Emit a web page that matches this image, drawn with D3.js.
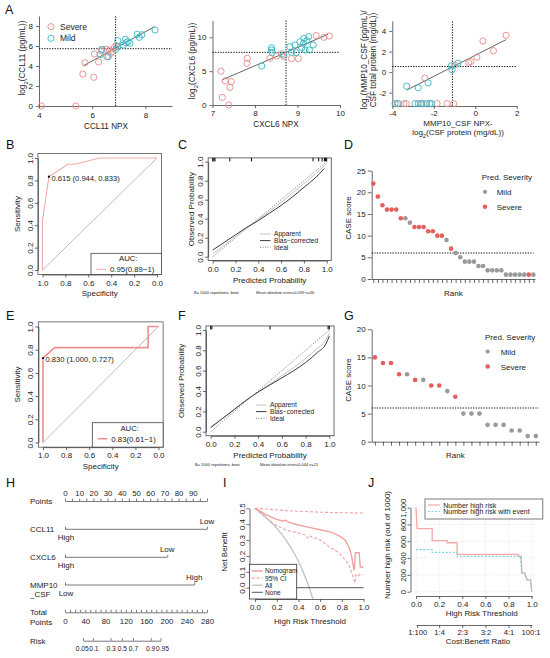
<!DOCTYPE html>
<html><head><meta charset="utf-8">
<script src="https://cdn.jsdelivr.net/npm/d3@7"></script>
<style>body{margin:0;background:#fff}svg{display:block}</style>
</head><body>
<script>
// ================= DATA =================
// Panel A scatter data [x, y]
const ccl11Severe = [[4.09,0],[5.38,0],[5.65,3.2],[5.73,4.33],[6.06,2.87],[6.08,5.2],[6.24,4.4],[6.34,5.53],[6.52,5.67],[6.55,4.93],[6.65,5.6],[6.7,5.27],[6.77,5.43],[6.84,5.87],[6.9,6.03]];
const ccl11Mild = [[6.3,5.13],[6.37,5.67],[6.6,4.93],[6.9,5.67],[6.96,5.93],[6.96,6.53],[7.17,6.1],[7.25,6.67],[7.27,6.33],[7.34,6.43],[7.42,6.27],[7.69,7.17],[7.77,6.87],[7.87,7.13],[8.36,7.6]];
const ccl11Fit = [[5.65,4.0],[8.34,7.93]];
const ccl11Cut = [6.88,5.73];
const cxcl6Severe = [[7.2,5.0],[7.23,1.13],[7.3,3.55],[7.38,0],[7.41,2.6],[7.44,3.45],[7.81,6.16],[7.82,6.9],[8.35,6.9],[8.51,7.24],[8.63,7.54],[8.68,7.14],[8.86,6.85],[9.02,6.85],[9.44,10.25],[9.62,10.0],[9.75,10.2]];
const cxcl6Mild = [[8.16,5.76],[8.39,8.47],[8.39,8.13],[8.4,7.78],[8.67,7.39],[8.82,8.62],[8.86,7.78],[8.94,8.87],[8.97,7.73],[9.06,9.36],[9.1,8.47],[9.14,9.11],[9.18,8.13],[9.22,9.5],[9.26,10.1],[9.28,8.13],[9.37,8.87],[9.15,9.85]];
const cxcl6Fit = [[7.22,3.7],[9.72,10.44]];
const cxcl6Cut = [8.73,7.78];
const mmp10Severe = [[1.49,3.58],[0.37,3.03],[0.88,2.08],[0.08,1.44],[-0.22,1.02],[-0.32,0.93],[-0.99,0.7],[-2.43,-0.58],[-3.76,-3.07],[-3.44,-3.07],[-3.33,-3.07],[-2.62,-3.07],[-2.51,-3.07],[-1.84,-3.07],[-1.36,-3.07],[-1.04,-3.07]];
const mmp10Mild = [[-3.31,-1.37],[-2.75,-1.53],[-2.27,-1.05],[-1.15,0.61],[-1.12,0.22],[-0.83,0.86],[-3.87,-3.07],[-3.71,-3.07],[-2.91,-3.07],[-2.75,-3.07],[-2.59,-3.07],[-2.35,-3.07],[-2.19,-3.07],[-2.11,-3.07]];
const mmp10Fit = [[-3.31,-1.76],[1.49,3.16]];
const mmp10Cut = [-1.1,0.54];

// ROC curves [specificity, sensitivity]
const rocB = [[1,0],[1,0.44],[0.944,0.833],[0.78,0.944],[0.72,0.944],[0.5,1],[0,1]];
const rocBBest = [0.944,0.833];
const rocBBestLabel = "0.615 (0.944, 0.833)";
const rocBAuc = "0.95(0.89\u22121)";
const rocE = [[1,0],[1,0.727],[0.9,0.818],[0.09,0.818],[0.09,1],[0,1]];
const rocEBest = [1.0,0.727];
const rocEBestLabel = "0.830 (1.000, 0.727)";
const rocEAuc = "0.83(0.61\u22121)";

// Calibration curves [predicted, observed]
const calCApparent = [[0,0.03],[0.1,0.12],[0.2,0.21],[0.3,0.3],[0.4,0.39],[0.5,0.48],[0.6,0.57],[0.7,0.67],[0.8,0.77],[0.9,0.87],[1.0,0.98]];
const calCBias = [[0,0.07],[0.1,0.15],[0.2,0.23],[0.3,0.31],[0.4,0.38],[0.5,0.46],[0.6,0.54],[0.7,0.63],[0.8,0.73],[0.9,0.83],[0.98,0.93]];
const calCRug = [0.0,0.01,0.02,0.15,0.34,0.88,0.93,0.96,0.98,0.99,1.0];
const calCNote = ["B= 1000 repetitions, boot","Mean absolute error=0.039 n=36"];
const calFApparent = [[0,0.05],[0.1,0.13],[0.2,0.22],[0.3,0.31],[0.4,0.39],[0.5,0.47],[0.6,0.55],[0.7,0.63],[0.8,0.72],[0.9,0.82],[0.97,0.9],[1.0,0.97]];
const calFBias = [[0,0.04],[0.1,0.13],[0.2,0.22],[0.3,0.31],[0.4,0.39],[0.5,0.46],[0.6,0.53],[0.7,0.6],[0.8,0.68],[0.9,0.78],[0.97,0.86],[1.0,0.94]];
const calFRug = [0.0,0.01,0.5,0.99,1.0];
const calFNote = ["B= 1000 repetitions, boot","Mean absolute error=0.044 n=21"];

// CASE score ranks
const dScores = [22,19,17,16,16,16,14,14,13,12,12,12,11,11,10,10,9,7,6,5,4,4,4,3,3,2,2,2,2,1,1,1,1,1,1,1];
const dPred = ["S","S","S","S","S","S","S","M","M","S","S","S","S","S","S","S","M","S","M","M","M","M","M","M","M","M","M","M","M","M","M","M","M","M","S","M"];
const gScores = [15,14,14,12,12,11,11,10,10,9,8,5,5,5,3,3,3,2,2,1,1];
const gPred = ["S","S","S","S","M","S","M","S","S","M","S","M","M","M","M","M","M","M","M","M","M"];
const caseCut = 6;

// Nomogram
const nomoNames = [["CCL11"],["CXCL6"],["MMP10","_CSF"]];
const nomoMaxPoints = [100,72,91];
const nomoLeftLabels = ["High","High","Low"];
const nomoRightLabels = ["Low","Low","High"];
const riskTicks = [0.05,0.1,0.3,0.5,0.7,0.9,0.95];
const riskLabels = ["0.05","0.1","0.3","0.5","0.7","0.9","0.95"];
const riskMidPoints = 112, pointsPerLogit = 26;

// Decision curve [threshold, net benefit]
const dcaNomogram = [[0,0.5],[0.05,0.48],[0.1,0.46],[0.2,0.43],[0.25,0.42],[0.28,0.425],[0.32,0.41],[0.4,0.395],[0.5,0.38],[0.6,0.365],[0.7,0.35],[0.78,0.325],[0.83,0.3],[0.87,0.25],[0.89,0.2],[0.91,0.12],[0.915,0.11],[0.925,0.22],[0.96,0.22],[0.97,0.13],[1.0,0.13]];
const dcaUpper = [[0,0.5],[0.3,0.485],[0.6,0.475],[1.0,0.47]];
const dcaLower = [[0,0.5],[0.1,0.44],[0.2,0.39],[0.3,0.36],[0.4,0.345],[0.47,0.33],[0.49,0.31],[0.51,0.325],[0.6,0.3],[0.7,0.25],[0.75,0.23],[0.8,0.2],[0.86,0.15],[0.9,0.08],[0.92,0.03],[0.93,0.08],[0.95,0.07],[0.97,0.09],[0.99,0.08]];
const dcaAll = [[0,0.5],[0.1,0.444],[0.2,0.375],[0.3,0.286],[0.35,0.23],[0.4,0.167],[0.45,0.09],[0.5,0],[0.55,-0.11]];
const dcaNone = [[0,0],[1,0]];

// Clinical impact curve [threshold, number]
const cicHighRisk = [[0,1000],[0.01,750],[0.14,750],[0.14,607],[0.27,607],[0.27,583],[0.355,583],[0.355,445],[0.88,445],[0.9,420],[0.91,420],[0.915,220],[0.94,220],[0.95,180],[0.96,140],[0.99,140],[1.0,0]];
const cicWithEvent = [[0,500],[0.14,500],[0.14,468],[0.355,468],[0.355,420],[0.9,420],[0.915,220],[0.94,220],[0.95,180],[0.96,140],[0.99,140],[1.0,0]];
const cbPositions = [0.0099,0.2,0.4,0.6,0.8,0.99];
const cbLabels = ["1:100","1:4","2:3","3:2","4:1","100:1"];

// ================= DRAWING =================
const FONT = "'Liberation Sans', Arial, Helvetica, sans-serif";
const SEV = "#E98A86", MILD = "#35B6C2", PSEV = "#E5605C", PMILD = "#9a9a9a";
const svg = d3.select("body").append("svg").attr("width",550).attr("height",658).style("font-family",FONT);
svg.append("rect").attr("width",550).attr("height",658).attr("fill","#fff");

function text(x,y,s,o={}){
  const t = svg.append("text").attr("x",x).attr("y",y).text(s)
    .attr("font-size",o.size||8).attr("fill",o.fill||"#222").attr("text-anchor",o.anchor||"start");
  if(o.rotate) t.attr("transform",`rotate(${o.rotate},${x},${y})`);
  return t;
}
function rich(x,y,segs,o={}){
  const t = svg.append("text").attr("x",x).attr("y",y)
    .attr("font-size",o.size||8).attr("fill","#222").attr("text-anchor",o.anchor||"middle");
  if(o.rotate) t.attr("transform",`rotate(${o.rotate},${x},${y})`);
  segs.forEach(s=>{
    if(typeof s==="string") t.append("tspan").text(s);
    else t.append("tspan").text(s.sub).attr("baseline-shift","sub").attr("font-size",(o.size||8)*0.72);
  });
  return t;
}
function styleAxis(sel,size=8,color="#333"){
  sel.select(".domain").attr("stroke",color).attr("stroke-width",0.8);
  sel.selectAll(".tick line").attr("stroke",color).attr("stroke-width",0.8);
  sel.selectAll(".tick text").attr("font-size",size).attr("font-family",FONT).attr("fill","#222");
  return sel;
}
function rotLeft(sel,off){
  sel.selectAll(".tick text").attr("x",0).attr("dy",0).attr("text-anchor","middle")
    .attr("transform",`translate(${-off},0) rotate(-90)`);
}
const line = (x,y)=>d3.line().x(d=>x(d[0])).y(d=>y(d[1]));

// Panel letters
[["A",5,14],["B",6,149],["C",178,149],["D",344,149],["E",6,320],["F",178,320],["G",344,320],["H",6,487],["I",223,487],["J",368,487]]
  .forEach(([l,x,y])=>text(x,y,l,{size:12.5,fill:"#111"}));

// ---------- Panel A ----------
function scatter(o){
  const x=d3.scaleLinear(o.xd,o.xr), y=d3.scaleLinear(o.yd,o.yr);
  const g=svg.append("g");
  const xa=g.append("g").attr("transform",`translate(0,${y(o.yd[0])})`)
    .call(d3.axisBottom(x).tickValues(o.xt).tickSize(3).tickPadding(o.xpad).tickSizeOuter(0).tickFormat(d=>d));
  styleAxis(xa,8,"#444");
  const ya=g.append("g").attr("transform",`translate(${x(o.xd[0])},0)`)
    .call(d3.axisLeft(y).tickValues(o.yt).tickSize(3).tickSizeOuter(0).tickFormat(d=>d));
  styleAxis(ya,8,"#444");
  g.append("line").attr("x1",x(o.cut[0])).attr("x2",x(o.cut[0])).attr("y1",y(o.yd[0])).attr("y2",y(o.yd[1]))
    .attr("stroke","#111").attr("stroke-width",1).attr("stroke-dasharray","1.3,1.3");
  g.append("line").attr("x1",x(o.xd[0])).attr("x2",x(o.xd[1])).attr("y1",y(o.cut[1])).attr("y2",y(o.cut[1]))
    .attr("stroke","#111").attr("stroke-width",1).attr("stroke-dasharray","1.3,1.3");
  g.append("path").attr("d",line(x,y)(o.fit)).attr("stroke","#666").attr("stroke-width",1).attr("fill","none");
  [[o.sev,SEV],[o.mild,MILD]].forEach(([data,c])=>{
    g.selectAll(null).data(data).join("circle").attr("cx",d=>x(d[0])).attr("cy",d=>y(d[1])).attr("r",3.1)
      .attr("fill","none").attr("stroke",c).attr("stroke-width",0.9);
  });
}
scatter({xd:[4,9],xr:[39,172],yd:[0,9],yr:[106,16],xt:[4,6,8],yt:[0,2,4,6,8],xpad:3,sev:ccl11Severe,mild:ccl11Mild,fit:ccl11Fit,cut:ccl11Cut});
scatter({xd:[7,10],xr:[212.5,340],yd:[0,12.5],yr:[105,20.4],xt:[7,8,9,10],yt:[0,5,10],xpad:2.5,sev:cxcl6Severe,mild:cxcl6Mild,fit:cxcl6Fit,cut:cxcl6Cut});
scatter({xd:[-4,2],xr:[392.3,516.7],yd:[-3.3,5],yr:[106,20.7],xt:[-4,-2,0,2],yt:[-2,0,2,4],xpad:1.2,sev:mmp10Severe,mild:mmp10Mild,fit:mmp10Fit,cut:mmp10Cut});
// legend A
svg.append("circle").attr("cx",51).attr("cy",26.7).attr("r",3.1).attr("fill","none").attr("stroke",SEV).attr("stroke-width",0.9);
svg.append("circle").attr("cx",51).attr("cy",38.3).attr("r",3.1).attr("fill","none").attr("stroke",MILD).attr("stroke-width",0.9);
text(60,29.8,"Severe",{size:8.5});
text(60,41.3,"Mild",{size:8.5});
// A titles
rich(25,58,["log",{sub:"2"},"(CCL11 (pg/mL))"],{rotate:-90,size:8.2});
rich(195,61,["log",{sub:"2"},"(CXCL6 (pg/mL))"],{rotate:-90,size:8.2});
rich(367,60,["log",{sub:"2"},"(MMP10_CSF (pg/mL)/"],{rotate:-90,size:8.2});
text(376,60,"CSF total protein (mg/dL))",{rotate:-90,size:8.2,anchor:"middle"});
text(106,128.5,"CCL11 NPX",{anchor:"middle",size:8.2});
text(276,127,"CXCL6 NPX",{anchor:"middle",size:8.2});
text(458,126.3,"MMP10_CSF NPX-",{anchor:"middle",size:8});
rich(458,135,["log",{sub:"2"},"(CSF protein (mg/dL))"],{size:8});

// ---------- ROC panels ----------
function rocPanel(o){
  const x=d3.scaleLinear([1,0],[o.xl,o.xr]), y=d3.scaleLinear([0,1],[o.yb,o.yt]);
  const g=svg.append("g");
  const px=(o.xr-o.xl)*0.04, py=(o.yb-o.yt)*0.04;
  g.append("rect").attr("x",o.xl-px).attr("y",o.yt-py).attr("width",o.xr-o.xl+2*px).attr("height",o.yb-o.yt+2*py)
    .attr("fill","none").attr("stroke","#555").attr("stroke-width",0.8);
  g.append("path").attr("d",line(x,y)([[1,0],[0,1]])).attr("stroke","#bdbdbd").attr("stroke-width",1).attr("fill","none");
  g.append("path").attr("d",line(x,y)(o.curve)).attr("stroke",o.col).attr("stroke-width",o.w).attr("fill","none");
  g.append("circle").attr("cx",x(o.best[0])).attr("cy",y(o.best[1])).attr("r",1.1).attr("fill","#000");
  text(x(o.best[0])+2.5,y(o.best[1])+4,o.bestLabel,{size:7.6});
  const ticks=[0,0.2,0.4,0.6,0.8,1];
  const xa=g.append("g").attr("transform",`translate(0,${o.yb+py})`)
    .call(d3.axisBottom(x).tickValues(ticks).tickSize(3).tickPadding(2.5).tickSizeOuter(0).tickFormat(d3.format(".1f")));
  styleAxis(xa,8,"#444");
  const ya=g.append("g").attr("transform",`translate(${o.xl-px},0)`)
    .call(d3.axisLeft(y).tickValues(ticks).tickSize(3).tickSizeOuter(0).tickFormat(d3.format(".1f")));
  styleAxis(ya,8,"#444"); rotLeft(ya,5);
  // legend
  const lx=o.leg[0], ly=o.leg[1], lr=o.xr+px, lb=o.yb+py;
  g.append("rect").attr("x",lx).attr("y",ly).attr("width",lr-lx).attr("height",lb-ly).attr("fill","#fff").attr("stroke","#444").attr("stroke-width",0.8);
  text(lx+(lr-lx)/2+2,ly+8,"AUC:",{size:7.8,anchor:"middle"});
  g.append("line").attr("x1",lx+5.5).attr("x2",lx+15).attr("y1",ly+16).attr("y2",ly+16).attr("stroke",o.col).attr("stroke-width",o.w);
  text(lx+19,ly+18.8,o.auc,{size:7.8});
  text(o.xl+(o.xr-o.xl)/2,o.yb+py+22,"Specificity",{anchor:"middle",size:8});
  text(20,(o.yb+o.yt)/2,"Sensitivity",{anchor:"middle",size:8,rotate:-90});
}
rocPanel({xl:42.5,xr:157,yb:270,yt:158,curve:rocB,best:rocBBest,bestLabel:rocBBestLabel,col:"#F3AAAA",w:1.1,leg:[91,253.3],auc:rocBAuc});
rocPanel({xl:43,xr:158.5,yb:442.5,yt:326.5,curve:rocE,best:rocEBest,bestLabel:rocEBestLabel,col:"#EF8E8E",w:1.6,leg:[92.3,422.7],auc:rocEAuc});

// ---------- Calibration panels ----------
function calPanel(o){
  const x=d3.scaleLinear([0,1],[o.x0,o.x1]), y=d3.scaleLinear([0,1],[o.y0,o.y1]);
  const g=svg.append("g");
  const px=(o.x1-o.x0)*0.04, py=(o.y0-o.y1)*0.04;
  const top=o.y1-py;
  g.append("rect").attr("x",o.x0-px).attr("y",top).attr("width",o.x1-o.x0+2*px).attr("height",o.y0-o.y1+2*py)
    .attr("fill","none").attr("stroke","#444").attr("stroke-width",0.8);
  g.append("path").attr("d",line(x,y)([[0,0],[1,1]])).attr("stroke","#777").attr("stroke-width",1).attr("stroke-dasharray","1,1.5").attr("fill","none");
  g.append("path").attr("d",d3.line().x(d=>x(d[0])).y(d=>y(d[1])).curve(d3.curveMonotoneX)(o.app)).attr("stroke","#c4c4c4").attr("stroke-width",1).attr("fill","none");
  g.append("path").attr("d",d3.line().x(d=>x(d[0])).y(d=>y(d[1])).curve(d3.curveMonotoneX)(o.bias)).attr("stroke","#3a3a3a").attr("stroke-width",1).attr("fill","none");
  g.selectAll(null).data(o.rug).join("line").attr("x1",d=>x(d)).attr("x2",d=>x(d)).attr("y1",top).attr("y2",top+3.5).attr("stroke","#000").attr("stroke-width",1);
  const ticks=[0,0.2,0.4,0.6,0.8,1];
  const xa=g.append("g").attr("transform",`translate(0,${o.y0+py})`)
    .call(d3.axisBottom(x).tickValues(ticks).tickSize(3).tickPadding(2.5).tickSizeOuter(0).tickFormat(d3.format(".1f")));
  styleAxis(xa,8,"#444");
  const ya=g.append("g").attr("transform",`translate(${o.x0-px},0)`)
    .call(d3.axisLeft(y).tickValues(ticks).tickSize(3).tickSizeOuter(0).tickFormat(d3.format(".1f")));
  styleAxis(ya,8,"#444"); rotLeft(ya,5);
  // legend
  const L=[["Apparent","#c4c4c4",null],["Bias\u2212corrected","#3a3a3a",null],["Ideal","#777","1,1.5"]];
  L.forEach(([s,c,da],i)=>{
    const yy=o.leg[1]+i*6.6;
    const ln=g.append("line").attr("x1",o.leg[0]).attr("x2",o.leg[0]+10.5).attr("y1",yy).attr("y2",yy).attr("stroke",c).attr("stroke-width",1);
    if(da) ln.attr("stroke-dasharray",da);
    text(o.leg[0]+14,yy+2.4,s,{size:6.6});
  });
  text(o.x0+(o.x1-o.x0)/2,o.y0+py+22,"Predicted Probability",{anchor:"middle",size:8});
  text(o.ylx,(o.y0+o.y1)/2,"Observed Probability",{anchor:"middle",size:8,rotate:-90});
  text(o.note[0],o.note[1],o.notes[0],{size:4});
  text(o.note[2],o.note[1],o.notes[1],{size:4});
}
calPanel({x0:212.7,x1:326.7,y0:256.7,y1:161.7,app:calCApparent,bias:calCBias,rug:calCRug,leg:[260,234],ylx:194,note:[194,293.5,256],notes:calCNote});
calPanel({x0:210.7,x1:329.3,y0:431.7,y1:330,app:calFApparent,bias:calFBias,rug:calFRug,leg:[256,405],ylx:184,note:[195,466,260],notes:calFNote});

// ---------- CASE score rank panels ----------
function rankPanel(o){
  const n=o.scores.length;
  const x=d3.scalePoint(d3.range(1,n+1),[o.ax0,o.ax1]).padding(o.pad);
  const y=d3.scaleLinear([0,o.ymax],[o.y0,o.yt]);
  const g=svg.append("g");
  const xa=g.append("g").attr("transform",`translate(0,${o.y0})`)
    .call(d3.axisBottom(x).tickSize(4).tickSizeOuter(0).tickFormat(""));
  styleAxis(xa,8,"#444");
  const ya=g.append("g").attr("transform",`translate(${o.ax0},0)`)
    .call(d3.axisLeft(y).tickValues(d3.range(0,o.ymax+1,5)).tickSize(4).tickSizeOuter(0).tickPadding(2));
  styleAxis(ya,8,"#444");
  g.append("line").attr("x1",o.ax0).attr("x2",o.dotEnd).attr("y1",y(caseCut)).attr("y2",y(caseCut))
    .attr("stroke","#111").attr("stroke-width",1.1).attr("stroke-dasharray","1.3,1.3");
  g.selectAll(null).data(o.scores).join("circle").attr("cx",(d,i)=>x(i+1)).attr("cy",d=>y(d)).attr("r",2.3)
    .attr("fill",(d,i)=>o.pred[i]==="S"?PSEV:PMILD);
  text(o.leg[0],o.leg[1],"Pred. Severity",{size:8});
  g.append("circle").attr("cx",o.leg[0]+o.leg[2]).attr("cy",o.leg[1]+11.5).attr("r",2.1).attr("fill",PMILD);
  g.append("circle").attr("cx",o.leg[0]+o.leg[2]).attr("cy",o.leg[1]+26.5).attr("r",2.3).attr("fill",PSEV);
  text(o.leg[0]+o.leg[3],o.leg[1]+14.5,"Mild",{size:8});
  text(o.leg[0]+o.leg[3],o.leg[1]+29.5,"Severe",{size:8});
  text((o.ax0+o.ax1)/2,o.y0+16.5,"Rank",{anchor:"middle",size:8});
  text(o.ylx,o.ylc,"CASE score",{anchor:"middle",size:8,rotate:-90});
}
rankPanel({scores:dScores,pred:dPred,ax0:371.7,ax1:535,pad:0.35,dotEnd:533.5,ymax:25,y0:279,yt:170.6,leg:[481.7,180.3,3.3,15],ylx:351,ylc:218});
rankPanel({scores:gScores,pred:gPred,ax0:371.7,ax1:539,pad:0.4,dotEnd:538.5,ymax:20,y0:441.7,yt:329.3,leg:[485,340,2.7,15.7],ylx:351,ylc:380});

// ---------- Nomogram H ----------
(function(){
  const ptsX=d3.scaleLinear([0,100],[65,207]);
  const totX=d3.scaleLinear([0,280],[65,207]);
  const g=svg.append("g");
  const pa=g.append("g").attr("transform","translate(0,501)")
    .call(d3.axisTop(ptsX).tickValues(d3.range(0,101,5)).tickSize(2.5).tickPadding(2.5).tickSizeOuter(0)
      .tickFormat(d=>(d%10===0&&d<100)?d:""));
  styleAxis(pa,7.8,"#555");
  text(30,504,"Points",{size:8});
  const rows=[529.3,557.3,585];
  nomoNames.forEach((nm,i)=>{
    const ry=rows[i];
    const ra=g.append("g").attr("transform",`translate(0,${ry})`)
      .call(d3.axisTop(ptsX).tickValues([0,nomoMaxPoints[i]]).tickSize(2.5).tickSizeOuter(0).tickFormat(""));
    ra.select(".domain").remove();
    styleAxis(ra,7.8,"#555");
    g.append("line").attr("x1",ptsX(0)).attr("x2",ptsX(nomoMaxPoints[i])).attr("y1",ry).attr("y2",ry).attr("stroke","#555").attr("stroke-width",0.8);
    text(ptsX(0)+1,ry+10.5,nomoLeftLabels[i],{anchor:"middle",size:8});
    text(ptsX(nomoMaxPoints[i]),ry-5.5,nomoRightLabels[i],{anchor:"middle",size:8});
    nm.forEach((s,j)=>text(30,ry+2.8+j*9.4,s,{size:8}));
  });
  const ta=g.append("g").attr("transform","translate(0,612.3)")
    .call(d3.axisBottom(totX).tickValues(d3.range(0,281,10)).tickSize(-2.5).tickPadding(6).tickSizeOuter(0)
      .tickFormat(d=>d%40===0?d:""));
  styleAxis(ta,7.8,"#555");
  text(30,615,"Total",{size:8});
  text(30,625,"Points",{size:8});
  const logit=p=>Math.log(p/(1-p));
  const rx=d3.scaleLinear([logit(0.05),logit(0.95)],[totX(riskMidPoints+pointsPerLogit*logit(0.05)),totX(riskMidPoints+pointsPerLogit*logit(0.95))]);
  const lab=new Map(riskTicks.map((p,i)=>[logit(p),riskLabels[i]]));
  const ra=g.append("g").attr("transform","translate(0,640.7)")
    .call(d3.axisBottom(rx).tickValues(riskTicks.map(logit)).tickSize(-2.5).tickPadding(6).tickSizeOuter(0)
      .tickFormat(v=>lab.get(v)));
  styleAxis(ra,6.7,"#555");
  const nudge=[-1.3,0.6,0,0,0,-0.6,1.3];
  ra.selectAll(".tick text").attr("dx",(d,i)=>nudge[i]);
  text(30,643.5,"Risk",{size:8});
})();

// ---------- Decision curve I ----------
(function(){
  const x=d3.scaleLinear([0,1],[255,363.5]), y=d3.scaleLinear([0,0.5],[587.7,508.3]);
  const g=svg.append("g");
  svg.append("clipPath").attr("id","clipI").append("rect").attr("x",249.5).attr("y",503).attr("width",119).attr("height",96);
  const c=g.append("g").attr("clip-path","url(#clipI)");
  const ln=d3.line().x(d=>x(d[0])).y(d=>y(d[1]));
  c.append("path").attr("d",d3.line().x(d=>x(d[0])).y(d=>y(d[1])).curve(d3.curveMonotoneX)(dcaAll)).attr("stroke","#c2c2c2").attr("stroke-width",1.3).attr("fill","none");
  c.append("path").attr("d",ln(dcaNone)).attr("stroke","#555").attr("stroke-width",1).attr("fill","none");
  c.append("path").attr("d",ln(dcaUpper)).attr("stroke","#F2A0A0").attr("stroke-width",1.1).attr("stroke-dasharray","3,2").attr("fill","none");
  c.append("path").attr("d",ln(dcaLower)).attr("stroke","#F2A0A0").attr("stroke-width",1.1).attr("stroke-dasharray","3,2").attr("fill","none");
  c.append("path").attr("d",ln(dcaNomogram)).attr("stroke","#F2A0A0").attr("stroke-width",1.4).attr("fill","none");
  const xa=g.append("g").attr("transform","translate(0,599)")
    .call(d3.axisBottom(x).tickValues([0,0.2,0.4,0.6,0.8,1]).tickSize(3).tickPadding(2.5).tickSizeOuter(0).tickFormat(d3.format(".1f")));
  styleAxis(xa,8,"#444");
  const ya=g.append("g").attr("transform","translate(249.5,0)")
    .call(d3.axisLeft(y).tickValues([0,0.1,0.2,0.3,0.4,0.5]).tickSize(3).tickSizeOuter(0).tickFormat(d3.format(".1f")));
  styleAxis(ya,8,"#444"); rotLeft(ya,5);
  // legend
  g.append("rect").attr("x",249.5).attr("y",564.3).attr("width",47.2).attr("height",34.7).attr("fill","#fff").attr("stroke","#333").attr("stroke-width",0.8);
  const L=[["Nomogram","#F2A0A0",null,1.4],["95% CI","#F2A0A0","3,2",1.1],["All","#c2c2c2",null,1.3],["None","#555",null,1]];
  L.forEach(([s,col,da,w],i)=>{
    const yy=571+i*7.1;
    const l=g.append("line").attr("x1",251.7).attr("x2",262.7).attr("y1",yy).attr("y2",yy).attr("stroke",col).attr("stroke-width",w);
    if(da) l.attr("stroke-dasharray",da);
    text(265,yy+2.4,s,{size:6.6});
  });
  text(310,623.5,"High Risk Threshold",{anchor:"middle",size:8});
  text(227,552,"Net Benefit",{anchor:"middle",size:8,rotate:-90});
})();

// ---------- Clinical impact J ----------
(function(){
  const x=d3.scaleLinear([0,1],[416,531.7]), y=d3.scaleLinear([0,1000],[591.7,507.7]);
  const g=svg.append("g");
  const gx=[0,0.2,0.4,0.6,0.8,1], gy=[0,200,400,600,800,1000];
  g.selectAll(null).data(gx).join("line").attr("x1",d=>x(d)).attr("x2",d=>x(d)).attr("y1",504.3).attr("y2",595)
    .attr("stroke","#dcdcdc").attr("stroke-width",0.7).attr("stroke-dasharray","1,1.5");
  g.selectAll(null).data(gy).join("line").attr("x1",411.4).attr("x2",536.3).attr("y1",d=>y(d)).attr("y2",d=>y(d))
    .attr("stroke","#dcdcdc").attr("stroke-width",0.7).attr("stroke-dasharray","1,1.5");
  const ln=d3.line().x(d=>x(d[0])).y(d=>y(d[1]));
  g.append("path").attr("d",ln(cicHighRisk)).attr("stroke","#F5A9A9").attr("stroke-width",1.3).attr("fill","none");
  g.append("path").attr("d",ln(cicWithEvent)).attr("stroke","#7fd3dc").attr("stroke-width",1.2).attr("stroke-dasharray","2,1.6").attr("fill","none");
  const xa=g.append("g").attr("transform","translate(0,596)")
    .call(d3.axisBottom(x).tickValues(gx).tickSize(3).tickPadding(2.5).tickSizeOuter(0).tickFormat(d3.format(".1f")));
  styleAxis(xa,8,"#444");
  const ya=g.append("g").attr("transform","translate(410.5,0)")
    .call(d3.axisLeft(y).tickValues(gy).tickSize(3).tickSizeOuter(0));
  styleAxis(ya,7.6,"#444"); rotLeft(ya,5);
  const cb=g.append("g").attr("transform","translate(0,625)")
    .call(d3.axisBottom(x).tickValues(cbPositions).tickSize(3).tickPadding(2).tickSizeOuter(0).tickFormat((d,i)=>cbLabels[i]));
  styleAxis(cb,7.6,"#444");
  text(481.7,616,"High Risk Threshold",{anchor:"middle",size:8});
  text(478,643.5,"Cost:Benefit Ratio",{anchor:"middle",size:8});
  text(390,545,"Number high risk (out of 1000)",{anchor:"middle",size:8,rotate:-90});
  g.append("rect").attr("x",425).attr("y",499).attr("width",117.7).attr("height",20).attr("fill","#fff").attr("stroke","#999").attr("stroke-width",1.3);
  g.append("line").attr("x1",428).attr("x2",440).attr("y1",505).attr("y2",505).attr("stroke","#F5A9A9").attr("stroke-width",1.3);
  g.append("line").attr("x1",428).attr("x2",440).attr("y1",511.5).attr("y2",511.5).attr("stroke","#7fd3dc").attr("stroke-width",1.2).attr("stroke-dasharray","2,1.6");
  text(443.3,507.7,"Number high risk",{size:7});
  text(443.3,514.2,"Number high risk with event",{size:7});
})();
</script>
</body></html>
